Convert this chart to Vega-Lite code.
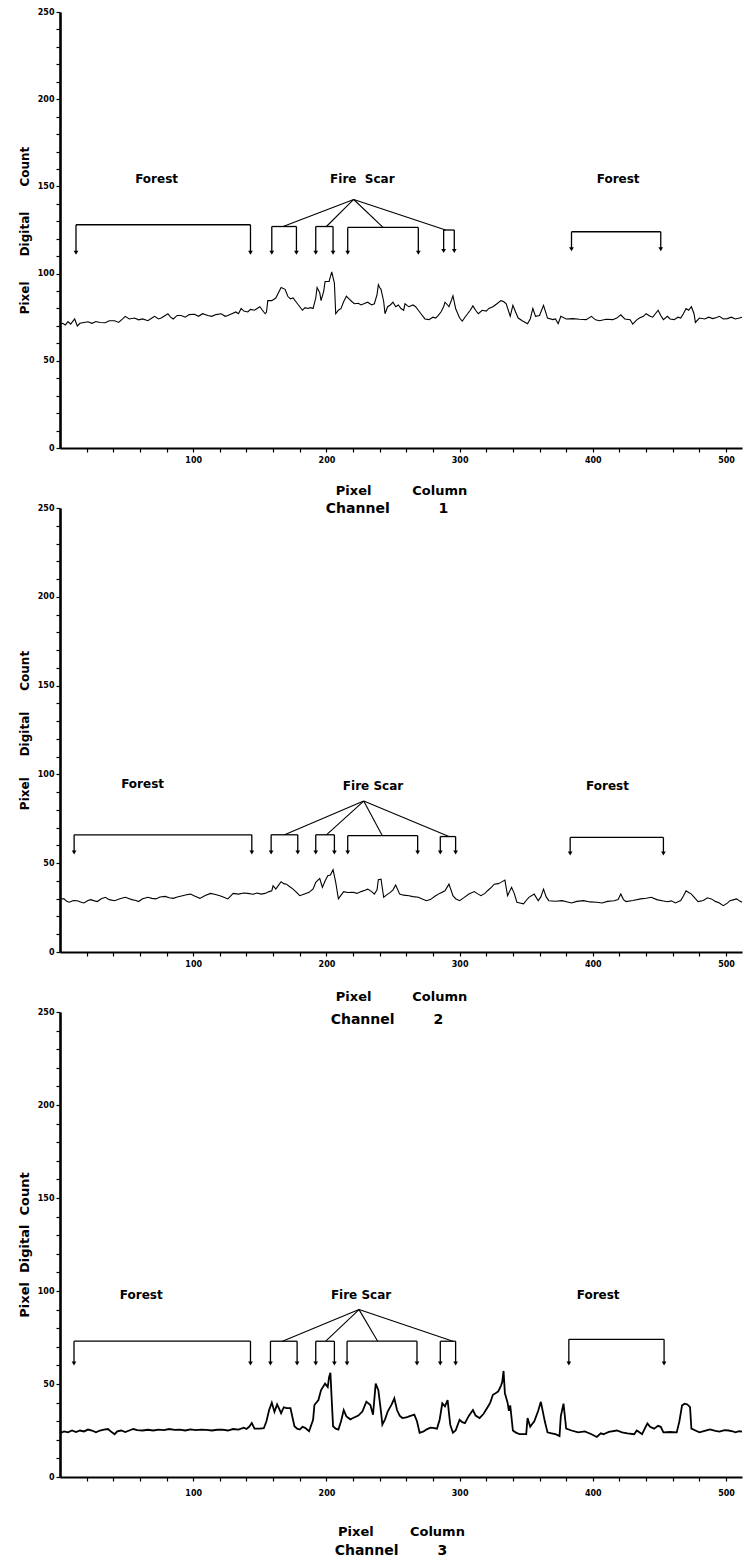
{
"$schema": "https://vega.github.io/schema/vega-lite/v6.json",
"background": "white",
"padding": {"left": 18, "top": 8, "right": 0, "bottom": 0},
"bounds": "flush",
"spacing": 60,
"config": {
  "view": {"stroke": null},
  "axis": {"grid": false, "domainColor": "black", "tickColor": "black", "labelColor": "black", "titleColor": "black",
    "labelFont": "DejaVu Sans", "labelFontSize": 8, "labelFontWeight": "bold",
    "titleFont": "DejaVu Sans", "titleFontSize": 13, "titleFontWeight": "bold", "tickSize": 4, "tickWidth": 1.2},
  "axisX": {"domainWidth": 1.8, "labelPadding": 4},
  "axisY": {"domainWidth": 2.6, "labelPadding": 2, "titlePadding": 6, "titleFontSize": 12}
},
"datasets": {
"ch1": [{"col":0,"dn":71},{"col":2,"dn":71.5},{"col":4,"dn":70.5},{"col":6,"dn":72.5},{"col":8,"dn":71},{"col":11,"dn":74},{"col":13,"dn":70},{"col":15,"dn":71.5},{"col":18,"dn":72},{"col":21,"dn":72.4},{"col":24,"dn":71.5},{"col":27,"dn":72.5},{"col":30,"dn":72},{"col":34,"dn":71.8},{"col":37,"dn":73},{"col":41,"dn":73},{"col":44,"dn":72},{"col":47,"dn":74},{"col":49,"dn":75.5},{"col":52,"dn":74},{"col":56,"dn":74.5},{"col":59,"dn":73.5},{"col":62,"dn":74},{"col":66,"dn":73},{"col":69,"dn":74.5},{"col":71,"dn":75.5},{"col":74,"dn":74},{"col":76,"dn":74.5},{"col":79,"dn":76},{"col":81,"dn":77},{"col":83,"dn":75},{"col":85,"dn":74},{"col":88,"dn":76},{"col":91,"dn":76},{"col":94,"dn":75},{"col":97,"dn":76.5},{"col":101,"dn":76.7},{"col":104,"dn":75.5},{"col":107,"dn":77},{"col":111,"dn":76},{"col":114,"dn":75.5},{"col":117,"dn":76.5},{"col":121,"dn":77},{"col":124,"dn":75.5},{"col":126,"dn":76},{"col":129,"dn":77},{"col":132,"dn":78},{"col":134,"dn":77},{"col":136,"dn":80},{"col":138,"dn":78.5},{"col":141,"dn":78},{"col":143,"dn":79.5},{"col":146,"dn":79},{"col":148,"dn":80},{"col":150,"dn":81},{"col":152,"dn":79},{"col":154,"dn":77},{"col":155,"dn":78},{"col":156,"dn":84.5},{"col":159,"dn":84.5},{"col":162,"dn":86},{"col":164,"dn":89},{"col":166,"dn":92},{"col":169,"dn":91},{"col":171,"dn":87},{"col":173,"dn":85.5},{"col":175,"dn":86},{"col":177,"dn":84},{"col":179,"dn":82},{"col":182,"dn":79},{"col":184,"dn":80.5},{"col":186,"dn":80},{"col":188,"dn":80.5},{"col":190,"dn":80},{"col":192,"dn":86},{"col":193,"dn":92},{"col":195,"dn":89},{"col":196,"dn":84.5},{"col":198,"dn":90},{"col":199,"dn":95.5},{"col":202,"dn":95.5},{"col":204,"dn":101},{"col":206,"dn":94.5},{"col":207,"dn":77},{"col":209,"dn":79},{"col":211,"dn":80},{"col":213,"dn":84},{"col":215,"dn":87},{"col":217,"dn":85.5},{"col":219,"dn":84},{"col":221,"dn":82.7},{"col":224,"dn":83},{"col":226,"dn":82},{"col":229,"dn":83},{"col":231,"dn":83.6},{"col":234,"dn":82},{"col":236,"dn":82.7},{"col":238,"dn":88},{"col":239,"dn":93.6},{"col":240,"dn":92},{"col":241,"dn":91},{"col":243,"dn":84},{"col":244,"dn":77},{"col":246,"dn":81},{"col":248,"dn":82},{"col":250,"dn":83.6},{"col":252,"dn":81},{"col":254,"dn":82},{"col":256,"dn":80},{"col":258,"dn":79},{"col":259,"dn":82.7},{"col":261,"dn":81.5},{"col":262,"dn":81},{"col":265,"dn":82},{"col":267,"dn":81},{"col":269,"dn":79},{"col":271,"dn":77},{"col":274,"dn":74},{"col":277,"dn":73.6},{"col":280,"dn":75},{"col":282,"dn":74.5},{"col":284,"dn":76},{"col":286,"dn":78},{"col":288,"dn":81},{"col":289,"dn":83.6},{"col":291,"dn":82},{"col":292,"dn":81},{"col":294,"dn":85},{"col":295,"dn":87.3},{"col":297,"dn":80},{"col":300,"dn":74.5},{"col":302,"dn":72.7},{"col":304,"dn":75},{"col":306,"dn":77},{"col":308,"dn":79},{"col":310,"dn":81.5},{"col":312,"dn":79},{"col":314,"dn":77},{"col":317,"dn":79},{"col":320,"dn":78.5},{"col":322,"dn":80},{"col":325,"dn":81},{"col":328,"dn":82.7},{"col":331,"dn":84.5},{"col":333,"dn":84},{"col":335,"dn":82.7},{"col":338,"dn":75.5},{"col":340,"dn":81.8},{"col":342,"dn":78},{"col":344,"dn":74.5},{"col":347,"dn":73},{"col":351,"dn":71.3},{"col":353,"dn":74},{"col":355,"dn":80},{"col":357,"dn":75.5},{"col":360,"dn":76},{"col":363,"dn":81.8},{"col":366,"dn":74.5},{"col":370,"dn":73.6},{"col":372,"dn":74},{"col":374,"dn":71.3},{"col":376,"dn":75.5},{"col":380,"dn":74},{"col":385,"dn":74.2},{"col":390,"dn":73.8},{"col":395,"dn":73.6},{"col":399,"dn":75.5},{"col":402,"dn":73.5},{"col":405,"dn":73},{"col":410,"dn":73.8},{"col":415,"dn":73.6},{"col":418,"dn":74.5},{"col":421,"dn":76.4},{"col":424,"dn":74},{"col":428,"dn":73.6},{"col":430,"dn":71},{"col":433,"dn":73.5},{"col":435,"dn":74.5},{"col":438,"dn":75.5},{"col":440,"dn":77},{"col":443,"dn":75.5},{"col":445,"dn":75},{"col":447,"dn":77},{"col":449,"dn":79},{"col":451,"dn":76},{"col":453,"dn":73.6},{"col":456,"dn":75.5},{"col":458,"dn":74},{"col":461,"dn":73.6},{"col":464,"dn":75},{"col":466,"dn":74.5},{"col":468,"dn":77},{"col":470,"dn":80},{"col":472,"dn":79},{"col":474,"dn":81},{"col":476,"dn":77},{"col":477,"dn":72},{"col":480,"dn":74.5},{"col":484,"dn":74},{"col":487,"dn":75},{"col":490,"dn":74.2},{"col":493,"dn":74.8},{"col":495,"dn":75.5},{"col":498,"dn":74},{"col":501,"dn":74.2},{"col":504,"dn":75},{"col":507,"dn":74},{"col":510,"dn":74.5},{"col":512,"dn":75}],
"ch2": [{"col":0,"dn":30},{"col":3,"dn":29.9},{"col":5,"dn":28.5},{"col":7,"dn":28},{"col":10,"dn":29},{"col":13,"dn":28.9},{"col":16,"dn":28},{"col":18,"dn":27.6},{"col":21,"dn":29},{"col":23,"dn":29.5},{"col":26,"dn":28.8},{"col":28,"dn":28.4},{"col":31,"dn":30},{"col":34,"dn":30.8},{"col":37,"dn":29.5},{"col":41,"dn":28.9},{"col":45,"dn":30},{"col":49,"dn":30.8},{"col":52,"dn":30},{"col":54,"dn":29.5},{"col":57,"dn":29},{"col":59,"dn":28.4},{"col":62,"dn":30},{"col":66,"dn":30.8},{"col":69,"dn":30.2},{"col":72,"dn":29.9},{"col":75,"dn":31},{"col":79,"dn":31.3},{"col":82,"dn":30.5},{"col":85,"dn":30.2},{"col":88,"dn":31},{"col":92,"dn":31.7},{"col":95,"dn":32.2},{"col":98,"dn":32.6},{"col":101,"dn":31.5},{"col":105,"dn":30.2},{"col":109,"dn":31.8},{"col":113,"dn":33},{"col":116,"dn":32.5},{"col":120,"dn":31.7},{"col":123,"dn":30.8},{"col":126,"dn":29.9},{"col":128,"dn":31.5},{"col":130,"dn":33},{"col":134,"dn":32.6},{"col":138,"dn":33.2},{"col":141,"dn":33},{"col":145,"dn":32.5},{"col":148,"dn":33.2},{"col":151,"dn":32.6},{"col":154,"dn":33},{"col":157,"dn":34},{"col":159,"dn":34.5},{"col":160,"dn":37.3},{"col":162,"dn":35.4},{"col":164,"dn":37.5},{"col":166,"dn":39.6},{"col":168,"dn":38.5},{"col":170,"dn":38.2},{"col":172,"dn":37},{"col":175,"dn":35.4},{"col":177,"dn":34},{"col":180,"dn":31.7},{"col":183,"dn":32.5},{"col":187,"dn":33.6},{"col":190,"dn":35.5},{"col":192,"dn":39.2},{"col":195,"dn":41.4},{"col":197,"dn":36.4},{"col":199,"dn":40},{"col":201,"dn":42.9},{"col":203,"dn":43.3},{"col":205,"dn":46.3},{"col":207,"dn":39.2},{"col":209,"dn":29.9},{"col":211,"dn":32},{"col":213,"dn":34},{"col":216,"dn":33.5},{"col":220,"dn":33.6},{"col":223,"dn":33},{"col":226,"dn":34},{"col":229,"dn":34.8},{"col":231,"dn":35.4},{"col":234,"dn":34},{"col":236,"dn":32.6},{"col":238,"dn":35},{"col":239,"dn":40.7},{"col":241,"dn":41},{"col":243,"dn":30.8},{"col":245,"dn":32},{"col":248,"dn":33.6},{"col":250,"dn":35},{"col":252,"dn":37.7},{"col":255,"dn":32.6},{"col":258,"dn":32},{"col":262,"dn":31.7},{"col":265,"dn":31.2},{"col":269,"dn":30.8},{"col":272,"dn":29.8},{"col":275,"dn":28.9},{"col":278,"dn":29.5},{"col":282,"dn":31.7},{"col":285,"dn":33},{"col":289,"dn":34.5},{"col":292,"dn":38.2},{"col":295,"dn":31.7},{"col":297,"dn":30},{"col":300,"dn":28.9},{"col":303,"dn":30.5},{"col":307,"dn":32.6},{"col":311,"dn":34},{"col":313,"dn":33},{"col":316,"dn":31.7},{"col":319,"dn":33},{"col":321,"dn":34.5},{"col":324,"dn":36.5},{"col":326,"dn":38.2},{"col":329,"dn":38.5},{"col":331,"dn":39.2},{"col":334,"dn":40.5},{"col":336,"dn":31.7},{"col":339,"dn":36.4},{"col":341,"dn":33},{"col":343,"dn":28},{"col":346,"dn":27.5},{"col":348,"dn":27.1},{"col":350,"dn":29},{"col":352,"dn":30.8},{"col":356,"dn":32.6},{"col":359,"dn":28.9},{"col":361,"dn":31},{"col":363,"dn":35.4},{"col":365,"dn":31},{"col":367,"dn":28.9},{"col":372,"dn":28.6},{"col":377,"dn":28.9},{"col":381,"dn":28.2},{"col":384,"dn":27.6},{"col":388,"dn":28.5},{"col":393,"dn":28.9},{"col":398,"dn":28.2},{"col":403,"dn":28},{"col":407,"dn":27.6},{"col":411,"dn":28.5},{"col":416,"dn":28.9},{"col":419,"dn":29.5},{"col":421,"dn":32.6},{"col":423,"dn":29.5},{"col":425,"dn":28.4},{"col":430,"dn":29},{"col":436,"dn":29.9},{"col":440,"dn":30.3},{"col":444,"dn":30.8},{"col":448,"dn":29.5},{"col":452,"dn":28.9},{"col":456,"dn":28.3},{"col":459,"dn":28.8},{"col":462,"dn":27.6},{"col":466,"dn":29},{"col":468,"dn":31.5},{"col":470,"dn":34.5},{"col":472,"dn":33.5},{"col":474,"dn":32.6},{"col":477,"dn":30},{"col":479,"dn":28.4},{"col":483,"dn":29},{"col":486,"dn":30.5},{"col":489,"dn":29.9},{"col":492,"dn":28.5},{"col":495,"dn":27.6},{"col":498,"dn":26.1},{"col":501,"dn":27.5},{"col":503,"dn":28.9},{"col":506,"dn":29.5},{"col":508,"dn":29.9},{"col":510,"dn":28.8},{"col":512,"dn":28}],
"ch3": [{"col":0,"dn":23.5},{"col":3,"dn":24.5},{"col":6,"dn":24},{"col":9,"dn":25},{"col":12,"dn":24.2},{"col":15,"dn":25},{"col":18,"dn":24.5},{"col":21,"dn":25.5},{"col":24,"dn":25},{"col":27,"dn":24},{"col":30,"dn":25},{"col":33,"dn":25.5},{"col":36,"dn":25.8},{"col":39,"dn":24},{"col":41,"dn":23},{"col":43,"dn":24.5},{"col":46,"dn":25},{"col":49,"dn":24.2},{"col":52,"dn":25},{"col":55,"dn":25.8},{"col":58,"dn":25.2},{"col":62,"dn":25},{"col":66,"dn":25.4},{"col":70,"dn":25},{"col":74,"dn":25.5},{"col":78,"dn":25.2},{"col":82,"dn":25.8},{"col":86,"dn":25.3},{"col":90,"dn":25.5},{"col":94,"dn":25},{"col":98,"dn":25.6},{"col":102,"dn":25.2},{"col":106,"dn":25.5},{"col":110,"dn":25.3},{"col":114,"dn":25},{"col":118,"dn":25.4},{"col":122,"dn":25.5},{"col":126,"dn":25},{"col":130,"dn":25.8},{"col":134,"dn":25.5},{"col":138,"dn":26.5},{"col":140,"dn":25.8},{"col":142,"dn":27},{"col":144,"dn":29},{"col":146,"dn":26},{"col":150,"dn":26},{"col":153,"dn":26.2},{"col":155,"dn":30},{"col":157,"dn":36},{"col":159,"dn":40},{"col":161,"dn":35},{"col":163,"dn":39},{"col":165,"dn":36},{"col":166,"dn":34.3},{"col":168,"dn":37.5},{"col":170,"dn":37},{"col":173,"dn":37},{"col":176,"dn":27.3},{"col":178,"dn":26},{"col":180,"dn":25.5},{"col":182,"dn":27},{"col":184,"dn":26.4},{"col":187,"dn":24.6},{"col":190,"dn":30.8},{"col":191,"dn":38.7},{"col":194,"dn":41.4},{"col":196,"dn":46.7},{"col":199,"dn":50.2},{"col":201,"dn":48.4},{"col":202,"dn":53.7},{"col":203,"dn":56},{"col":204,"dn":41.4},{"col":205,"dn":27.3},{"col":207,"dn":26},{"col":209,"dn":25.5},{"col":211,"dn":30},{"col":213,"dn":36},{"col":215,"dn":32.6},{"col":218,"dn":31},{"col":220,"dn":31.7},{"col":224,"dn":33},{"col":227,"dn":35.2},{"col":230,"dn":40.5},{"col":233,"dn":38.7},{"col":235,"dn":33.5},{"col":237,"dn":50.2},{"col":239,"dn":46.7},{"col":241,"dn":35},{"col":242,"dn":28.2},{"col":244,"dn":31},{"col":246,"dn":35.2},{"col":249,"dn":39},{"col":251,"dn":42.3},{"col":253,"dn":36},{"col":255,"dn":33},{"col":257,"dn":31.7},{"col":260,"dn":32},{"col":262,"dn":32.6},{"col":266,"dn":33.5},{"col":268,"dn":30},{"col":270,"dn":23.8},{"col":273,"dn":24.5},{"col":275,"dn":25.5},{"col":278,"dn":26.5},{"col":280,"dn":26.4},{"col":283,"dn":26},{"col":285,"dn":30.8},{"col":287,"dn":39.6},{"col":289,"dn":38},{"col":291,"dn":41.4},{"col":292,"dn":34.3},{"col":293,"dn":28},{"col":295,"dn":23.8},{"col":297,"dn":25},{"col":300,"dn":30.8},{"col":302,"dn":29.5},{"col":304,"dn":29},{"col":307,"dn":33},{"col":310,"dn":36},{"col":312,"dn":33},{"col":315,"dn":31.7},{"col":318,"dn":34},{"col":321,"dn":37.5},{"col":323,"dn":40},{"col":325,"dn":44.2},{"col":327,"dn":45},{"col":329,"dn":46},{"col":331,"dn":49},{"col":332,"dn":51},{"col":333,"dn":57},{"col":334,"dn":45},{"col":336,"dn":40},{"col":337,"dn":35.6},{"col":338,"dn":38.5},{"col":340,"dn":25},{"col":342,"dn":24},{"col":345,"dn":23},{"col":350,"dn":23},{"col":351,"dn":31.7},{"col":353,"dn":27},{"col":355,"dn":29},{"col":356,"dn":29.8},{"col":359,"dn":35.6},{"col":361,"dn":40.4},{"col":364,"dn":29.8},{"col":366,"dn":24},{"col":369,"dn":23.5},{"col":372,"dn":23},{"col":375,"dn":22},{"col":376,"dn":32.7},{"col":378,"dn":39.4},{"col":380,"dn":26},{"col":384,"dn":25},{"col":389,"dn":24},{"col":394,"dn":24.5},{"col":399,"dn":23},{"col":403,"dn":21.5},{"col":406,"dn":23.5},{"col":408,"dn":23},{"col":412,"dn":24.2},{"col":418,"dn":25},{"col":422,"dn":24},{"col":426,"dn":23.5},{"col":431,"dn":23},{"col":433,"dn":25},{"col":435,"dn":24},{"col":437,"dn":23},{"col":439,"dn":26},{"col":441,"dn":28.8},{"col":443,"dn":27},{"col":446,"dn":26},{"col":449,"dn":27.5},{"col":451,"dn":27},{"col":453,"dn":24},{"col":458,"dn":24.2},{"col":463,"dn":24},{"col":465,"dn":30},{"col":467,"dn":38.5},{"col":469,"dn":39.4},{"col":471,"dn":39},{"col":473,"dn":37.5},{"col":474,"dn":26},{"col":477,"dn":25},{"col":480,"dn":24},{"col":484,"dn":24.8},{"col":488,"dn":25.6},{"col":492,"dn":24.8},{"col":495,"dn":24.4},{"col":499,"dn":25.2},{"col":502,"dn":25},{"col":505,"dn":24.6},{"col":507,"dn":24},{"col":510,"dn":24.6},{"col":512,"dn":24.4}],
"brackets": [
{"ch":1,"a":12,"b":143,"lvl":128,"tip":112},{"ch":1,"a":159,"b":177.5,"lvl":127,"tip":112},{"ch":1,"a":192,"b":205,"lvl":127,"tip":112},{"ch":1,"a":216,"b":269,"lvl":126.5,"tip":112},{"ch":1,"a":288,"b":296,"lvl":125,"tip":113},{"ch":1,"a":384,"b":451,"lvl":124,"tip":114},
{"ch":2,"a":10.6,"b":144,"lvl":66,"tip":56},{"ch":2,"a":158.5,"b":178.5,"lvl":66,"tip":56},{"ch":2,"a":192,"b":206,"lvl":66,"tip":56},{"ch":2,"a":216,"b":268.5,"lvl":65.5,"tip":56},{"ch":2,"a":285.5,"b":297,"lvl":65,"tip":56},{"ch":2,"a":383,"b":453,"lvl":64.5,"tip":55.5},
{"ch":3,"a":10.5,"b":143,"lvl":73,"tip":61},{"ch":3,"a":158,"b":178,"lvl":73,"tip":61},{"ch":3,"a":192,"b":206,"lvl":73,"tip":61},{"ch":3,"a":215.5,"b":268,"lvl":73,"tip":61},{"ch":3,"a":285.5,"b":297,"lvl":73,"tip":61},{"ch":3,"a":382,"b":453.5,"lvl":74,"tip":61}],
"links": [
{"ch":1,"ax":220.5,"ay":142.5,"tx":167.5,"ty":127},{"ch":1,"ax":220.5,"ay":142.5,"tx":200,"ty":127},{"ch":1,"ax":220.5,"ay":142.5,"tx":242.5,"ty":126.5},{"ch":1,"ax":220.5,"ay":142.5,"tx":289.5,"ty":125},
{"ch":2,"ax":228,"ay":85,"tx":168.6,"ty":66},{"ch":2,"ax":228,"ay":85,"tx":200,"ty":66},{"ch":2,"ax":228,"ay":85,"tx":242,"ty":65.5},{"ch":2,"ax":228,"ay":85,"tx":292,"ty":65},
{"ch":3,"ax":224.5,"ay":90,"tx":167,"ty":73},{"ch":3,"ax":224.5,"ay":90,"tx":199.5,"ty":73},{"ch":3,"ax":224.5,"ay":90,"tx":238.5,"ty":73},{"ch":3,"ax":224.5,"ay":90,"tx":295,"ty":73}],
"labels": [
{"ch":1,"text":"Forest","col":72.5,"dn":154},{"ch":1,"text":"Fire\u00a0\u00a0Scar","col":227,"dn":154},{"ch":1,"text":"Forest","col":419,"dn":154},
{"ch":2,"text":"Forest","col":62,"dn":94.5},{"ch":2,"text":"Fire\u00a0Scar","col":235,"dn":93.5},{"ch":2,"text":"Forest","col":411,"dn":93.5},
{"ch":3,"text":"Forest","col":61,"dn":98},{"ch":3,"text":"Fire\u00a0Scar","col":226,"dn":98},{"ch":3,"text":"Forest","col":404,"dn":98}]
},
"vconcat": [
{
 "width": 682, "height": 436,
 "title": {"text": "Channel\u00a0\u00a0\u00a0\u00a0\u00a0\u00a0\u00a0\u00a0\u00a0\u00a01", "orient": "bottom", "font": "DejaVu Sans", "fontSize": 14, "fontWeight": "bold", "color": "black", "offset": 5, "dx": -14},
 "layer": [
  {"data": {"name": "ch1"}, "mark": {"type": "line", "color": "black", "strokeWidth": 1.1},
   "encoding": {
    "x": {"field": "col", "type": "quantitative", "scale": {"domain": [0, 512], "nice": false, "zero": false},
      "axis": {"values": [20,40,60,80,100,120,140,160,180,200,220,240,260,280,300,320,340,360,380,400,420,440,460,480,500], "labelExpr": "datum.value % 100 === 0 ? datum.label : ''", "title": "Pixel\u00a0\u00a0\u00a0\u00a0\u00a0\u00a0\u00a0\u00a0\u00a0Column", "titlePadding": 20}},
    "y": {"field": "dn", "type": "quantitative", "scale": {"domain": [0, 250], "nice": false},
      "axis": {"values": [0,10,20,30,40,50,60,70,80,90,100,110,120,130,140,150,160,170,180,190,200,210,220,230,240,250], "labelExpr": "datum.value % 50 === 0 ? datum.label : ''", "title": "Pixel\u00a0\u00a0\u00a0\u00a0\u00a0\u00a0Digital\u00a0\u00a0\u00a0\u00a0\u00a0\u00a0Count"}}}},
  {"data": {"name": "brackets"}, "transform": [{"filter": "datum.ch == 1"}], "mark": {"type": "rule", "color": "black", "strokeWidth": 1.3},
   "encoding": {
    "x": {"field": "a", "type": "quantitative", "axis": {"values": [20,40,60,80,100,120,140,160,180,200,220,240,260,280,300,320,340,360,380,400,420,440,460,480,500], "labelExpr": "datum.value % 100 === 0 ? datum.label : ''", "title": "Pixel\u00a0\u00a0\u00a0\u00a0\u00a0\u00a0\u00a0\u00a0\u00a0Column", "titlePadding": 20}},
    "x2": {"field": "b"},
    "y": {"field": "lvl", "type": "quantitative", "axis": {"values": [0,10,20,30,40,50,60,70,80,90,100,110,120,130,140,150,160,170,180,190,200,210,220,230,240,250], "labelExpr": "datum.value % 50 === 0 ? datum.label : ''", "title": "Pixel\u00a0\u00a0\u00a0\u00a0\u00a0\u00a0Digital\u00a0\u00a0\u00a0\u00a0\u00a0\u00a0Count"}}}},
  {"data": {"name": "brackets"}, "transform": [{"filter": "datum.ch == 1"}, {"fold": ["a", "b"], "as": ["end", "pos"]}], "mark": {"type": "rule", "color": "black", "strokeWidth": 1.3},
   "encoding": {
    "x": {"field": "pos", "type": "quantitative", "axis": {"values": [20,40,60,80,100,120,140,160,180,200,220,240,260,280,300,320,340,360,380,400,420,440,460,480,500], "labelExpr": "datum.value % 100 === 0 ? datum.label : ''", "title": "Pixel\u00a0\u00a0\u00a0\u00a0\u00a0\u00a0\u00a0\u00a0\u00a0Column", "titlePadding": 20}},
    "y": {"field": "lvl", "type": "quantitative", "axis": {"values": [0,10,20,30,40,50,60,70,80,90,100,110,120,130,140,150,160,170,180,190,200,210,220,230,240,250], "labelExpr": "datum.value % 50 === 0 ? datum.label : ''", "title": "Pixel\u00a0\u00a0\u00a0\u00a0\u00a0\u00a0Digital\u00a0\u00a0\u00a0\u00a0\u00a0\u00a0Count"}},
    "y2": {"field": "tip"}}},
  {"data": {"name": "brackets"}, "transform": [{"filter": "datum.ch == 1"}, {"fold": ["a", "b"], "as": ["end", "pos"]}], "mark": {"type": "point", "shape": "triangle-down", "filled": true, "color": "black", "opacity": 1, "size": 22},
   "encoding": {
    "x": {"field": "pos", "type": "quantitative", "axis": {"values": [20,40,60,80,100,120,140,160,180,200,220,240,260,280,300,320,340,360,380,400,420,440,460,480,500], "labelExpr": "datum.value % 100 === 0 ? datum.label : ''", "title": "Pixel\u00a0\u00a0\u00a0\u00a0\u00a0\u00a0\u00a0\u00a0\u00a0Column", "titlePadding": 20}},
    "y": {"field": "tip", "type": "quantitative", "axis": {"values": [0,10,20,30,40,50,60,70,80,90,100,110,120,130,140,150,160,170,180,190,200,210,220,230,240,250], "labelExpr": "datum.value % 50 === 0 ? datum.label : ''", "title": "Pixel\u00a0\u00a0\u00a0\u00a0\u00a0\u00a0Digital\u00a0\u00a0\u00a0\u00a0\u00a0\u00a0Count"}}}},
  {"data": {"name": "links"}, "transform": [{"filter": "datum.ch == 1"}], "mark": {"type": "rule", "color": "black", "strokeWidth": 1.1},
   "encoding": {
    "x": {"field": "ax", "type": "quantitative", "axis": {"values": [20,40,60,80,100,120,140,160,180,200,220,240,260,280,300,320,340,360,380,400,420,440,460,480,500], "labelExpr": "datum.value % 100 === 0 ? datum.label : ''", "title": "Pixel\u00a0\u00a0\u00a0\u00a0\u00a0\u00a0\u00a0\u00a0\u00a0Column", "titlePadding": 20}},
    "y": {"field": "ay", "type": "quantitative", "axis": {"values": [0,10,20,30,40,50,60,70,80,90,100,110,120,130,140,150,160,170,180,190,200,210,220,230,240,250], "labelExpr": "datum.value % 50 === 0 ? datum.label : ''", "title": "Pixel\u00a0\u00a0\u00a0\u00a0\u00a0\u00a0Digital\u00a0\u00a0\u00a0\u00a0\u00a0\u00a0Count"}},
    "x2": {"field": "tx"}, "y2": {"field": "ty"}}},
  {"data": {"name": "labels"}, "transform": [{"filter": "datum.ch == 1"}], "mark": {"type": "text", "font": "DejaVu Sans", "fontSize": 12, "fontWeight": "bold", "color": "black"},
   "encoding": {
    "x": {"field": "col", "type": "quantitative", "axis": {"values": [20,40,60,80,100,120,140,160,180,200,220,240,260,280,300,320,340,360,380,400,420,440,460,480,500], "labelExpr": "datum.value % 100 === 0 ? datum.label : ''", "title": "Pixel\u00a0\u00a0\u00a0\u00a0\u00a0\u00a0\u00a0\u00a0\u00a0Column", "titlePadding": 20}},
    "y": {"field": "dn", "type": "quantitative", "axis": {"values": [0,10,20,30,40,50,60,70,80,90,100,110,120,130,140,150,160,170,180,190,200,210,220,230,240,250], "labelExpr": "datum.value % 50 === 0 ? datum.label : ''", "title": "Pixel\u00a0\u00a0\u00a0\u00a0\u00a0\u00a0Digital\u00a0\u00a0\u00a0\u00a0\u00a0\u00a0Count"}},
    "text": {"field": "text"}}}
 ]
},
{
 "width": 682, "height": 444,
 "title": {"text": "Channel\u00a0\u00a0\u00a0\u00a0\u00a0\u00a0\u00a0\u00a02", "orient": "bottom", "font": "DejaVu Sans", "fontSize": 14, "fontWeight": "bold", "color": "black", "offset": 10, "dx": -14},
 "layer": [
  {"data": {"name": "ch2"}, "mark": {"type": "line", "color": "black", "strokeWidth": 1.1},
   "encoding": {
    "x": {"field": "col", "type": "quantitative", "scale": {"domain": [0, 512], "nice": false, "zero": false},
      "axis": {"values": [20,40,60,80,100,120,140,160,180,200,220,240,260,280,300,320,340,360,380,400,420,440,460,480,500], "labelExpr": "datum.value % 100 === 0 ? datum.label : ''", "title": "Pixel\u00a0\u00a0\u00a0\u00a0\u00a0\u00a0\u00a0\u00a0\u00a0Column", "titlePadding": 22}},
    "y": {"field": "dn", "type": "quantitative", "scale": {"domain": [0, 250], "nice": false},
      "axis": {"values": [0,10,20,30,40,50,60,70,80,90,100,110,120,130,140,150,160,170,180,190,200,210,220,230,240,250], "labelExpr": "datum.value % 50 === 0 ? datum.label : ''", "title": "Pixel\u00a0\u00a0\u00a0\u00a0\u00a0Digital\u00a0\u00a0\u00a0\u00a0\u00a0Count"}}}},
  {"data": {"name": "brackets"}, "transform": [{"filter": "datum.ch == 2"}], "mark": {"type": "rule", "color": "black", "strokeWidth": 1.3},
   "encoding": {
    "x": {"field": "a", "type": "quantitative", "axis": {"values": [20,40,60,80,100,120,140,160,180,200,220,240,260,280,300,320,340,360,380,400,420,440,460,480,500], "labelExpr": "datum.value % 100 === 0 ? datum.label : ''", "title": "Pixel\u00a0\u00a0\u00a0\u00a0\u00a0\u00a0\u00a0\u00a0\u00a0Column", "titlePadding": 22}},
    "x2": {"field": "b"},
    "y": {"field": "lvl", "type": "quantitative", "axis": {"values": [0,10,20,30,40,50,60,70,80,90,100,110,120,130,140,150,160,170,180,190,200,210,220,230,240,250], "labelExpr": "datum.value % 50 === 0 ? datum.label : ''", "title": "Pixel\u00a0\u00a0\u00a0\u00a0\u00a0Digital\u00a0\u00a0\u00a0\u00a0\u00a0Count"}}}},
  {"data": {"name": "brackets"}, "transform": [{"filter": "datum.ch == 2"}, {"fold": ["a", "b"], "as": ["end", "pos"]}], "mark": {"type": "rule", "color": "black", "strokeWidth": 1.3},
   "encoding": {
    "x": {"field": "pos", "type": "quantitative", "axis": {"values": [20,40,60,80,100,120,140,160,180,200,220,240,260,280,300,320,340,360,380,400,420,440,460,480,500], "labelExpr": "datum.value % 100 === 0 ? datum.label : ''", "title": "Pixel\u00a0\u00a0\u00a0\u00a0\u00a0\u00a0\u00a0\u00a0\u00a0Column", "titlePadding": 22}},
    "y": {"field": "lvl", "type": "quantitative", "axis": {"values": [0,10,20,30,40,50,60,70,80,90,100,110,120,130,140,150,160,170,180,190,200,210,220,230,240,250], "labelExpr": "datum.value % 50 === 0 ? datum.label : ''", "title": "Pixel\u00a0\u00a0\u00a0\u00a0\u00a0Digital\u00a0\u00a0\u00a0\u00a0\u00a0Count"}},
    "y2": {"field": "tip"}}},
  {"data": {"name": "brackets"}, "transform": [{"filter": "datum.ch == 2"}, {"fold": ["a", "b"], "as": ["end", "pos"]}], "mark": {"type": "point", "shape": "triangle-down", "filled": true, "color": "black", "opacity": 1, "size": 22},
   "encoding": {
    "x": {"field": "pos", "type": "quantitative", "axis": {"values": [20,40,60,80,100,120,140,160,180,200,220,240,260,280,300,320,340,360,380,400,420,440,460,480,500], "labelExpr": "datum.value % 100 === 0 ? datum.label : ''", "title": "Pixel\u00a0\u00a0\u00a0\u00a0\u00a0\u00a0\u00a0\u00a0\u00a0Column", "titlePadding": 22}},
    "y": {"field": "tip", "type": "quantitative", "axis": {"values": [0,10,20,30,40,50,60,70,80,90,100,110,120,130,140,150,160,170,180,190,200,210,220,230,240,250], "labelExpr": "datum.value % 50 === 0 ? datum.label : ''", "title": "Pixel\u00a0\u00a0\u00a0\u00a0\u00a0Digital\u00a0\u00a0\u00a0\u00a0\u00a0Count"}}}},
  {"data": {"name": "links"}, "transform": [{"filter": "datum.ch == 2"}], "mark": {"type": "rule", "color": "black", "strokeWidth": 1.1},
   "encoding": {
    "x": {"field": "ax", "type": "quantitative", "axis": {"values": [20,40,60,80,100,120,140,160,180,200,220,240,260,280,300,320,340,360,380,400,420,440,460,480,500], "labelExpr": "datum.value % 100 === 0 ? datum.label : ''", "title": "Pixel\u00a0\u00a0\u00a0\u00a0\u00a0\u00a0\u00a0\u00a0\u00a0Column", "titlePadding": 22}},
    "y": {"field": "ay", "type": "quantitative", "axis": {"values": [0,10,20,30,40,50,60,70,80,90,100,110,120,130,140,150,160,170,180,190,200,210,220,230,240,250], "labelExpr": "datum.value % 50 === 0 ? datum.label : ''", "title": "Pixel\u00a0\u00a0\u00a0\u00a0\u00a0Digital\u00a0\u00a0\u00a0\u00a0\u00a0Count"}},
    "x2": {"field": "tx"}, "y2": {"field": "ty"}}},
  {"data": {"name": "labels"}, "transform": [{"filter": "datum.ch == 2"}], "mark": {"type": "text", "font": "DejaVu Sans", "fontSize": 12, "fontWeight": "bold", "color": "black"},
   "encoding": {
    "x": {"field": "col", "type": "quantitative", "axis": {"values": [20,40,60,80,100,120,140,160,180,200,220,240,260,280,300,320,340,360,380,400,420,440,460,480,500], "labelExpr": "datum.value % 100 === 0 ? datum.label : ''", "title": "Pixel\u00a0\u00a0\u00a0\u00a0\u00a0\u00a0\u00a0\u00a0\u00a0Column", "titlePadding": 22}},
    "y": {"field": "dn", "type": "quantitative", "axis": {"values": [0,10,20,30,40,50,60,70,80,90,100,110,120,130,140,150,160,170,180,190,200,210,220,230,240,250], "labelExpr": "datum.value % 50 === 0 ? datum.label : ''", "title": "Pixel\u00a0\u00a0\u00a0\u00a0\u00a0Digital\u00a0\u00a0\u00a0\u00a0\u00a0Count"}},
    "text": {"field": "text"}}}
 ]
},
{
 "width": 682, "height": 465,
 "title": {"text": "Channel\u00a0\u00a0\u00a0\u00a0\u00a0\u00a0\u00a0\u00a03", "orient": "bottom", "font": "DejaVu Sans", "fontSize": 14, "fontWeight": "bold", "color": "black", "offset": 6, "dx": -10},
 "layer": [
  {"data": {"name": "ch3"}, "mark": {"type": "line", "color": "black", "strokeWidth": 1.8},
   "encoding": {
    "x": {"field": "col", "type": "quantitative", "scale": {"domain": [0, 512], "nice": false, "zero": false},
      "axis": {"values": [20,40,60,80,100,120,140,160,180,200,220,240,260,280,300,320,340,360,380,400,420,440,460,480,500], "labelExpr": "datum.value % 100 === 0 ? datum.label : ''", "title": "Pixel\u00a0\u00a0\u00a0\u00a0\u00a0\u00a0\u00a0\u00a0Column", "titlePadding": 28, "labelPadding": 8}},
    "y": {"field": "dn", "type": "quantitative", "scale": {"domain": [0, 250], "nice": false},
      "axis": {"values": [0,10,20,30,40,50,60,70,80,90,100,110,120,130,140,150,160,170,180,190,200,210,220,230,240,250], "labelExpr": "datum.value % 50 === 0 ? datum.label : ''", "title": "Pixel\u00a0\u00a0Digital\u00a0\u00a0Count", "titleFontSize": 13}}}},
  {"data": {"name": "brackets"}, "transform": [{"filter": "datum.ch == 3"}], "mark": {"type": "rule", "color": "black", "strokeWidth": 1.3},
   "encoding": {
    "x": {"field": "a", "type": "quantitative", "axis": {"values": [20,40,60,80,100,120,140,160,180,200,220,240,260,280,300,320,340,360,380,400,420,440,460,480,500], "labelExpr": "datum.value % 100 === 0 ? datum.label : ''", "title": "Pixel\u00a0\u00a0\u00a0\u00a0\u00a0\u00a0\u00a0\u00a0Column", "titlePadding": 28, "labelPadding": 8}},
    "x2": {"field": "b"},
    "y": {"field": "lvl", "type": "quantitative", "axis": {"values": [0,10,20,30,40,50,60,70,80,90,100,110,120,130,140,150,160,170,180,190,200,210,220,230,240,250], "labelExpr": "datum.value % 50 === 0 ? datum.label : ''", "title": "Pixel\u00a0\u00a0Digital\u00a0\u00a0Count", "titleFontSize": 13}}}},
  {"data": {"name": "brackets"}, "transform": [{"filter": "datum.ch == 3"}, {"fold": ["a", "b"], "as": ["end", "pos"]}], "mark": {"type": "rule", "color": "black", "strokeWidth": 1.3},
   "encoding": {
    "x": {"field": "pos", "type": "quantitative", "axis": {"values": [20,40,60,80,100,120,140,160,180,200,220,240,260,280,300,320,340,360,380,400,420,440,460,480,500], "labelExpr": "datum.value % 100 === 0 ? datum.label : ''", "title": "Pixel\u00a0\u00a0\u00a0\u00a0\u00a0\u00a0\u00a0\u00a0Column", "titlePadding": 28, "labelPadding": 8}},
    "y": {"field": "lvl", "type": "quantitative", "axis": {"values": [0,10,20,30,40,50,60,70,80,90,100,110,120,130,140,150,160,170,180,190,200,210,220,230,240,250], "labelExpr": "datum.value % 50 === 0 ? datum.label : ''", "title": "Pixel\u00a0\u00a0Digital\u00a0\u00a0Count", "titleFontSize": 13}},
    "y2": {"field": "tip"}}},
  {"data": {"name": "brackets"}, "transform": [{"filter": "datum.ch == 3"}, {"fold": ["a", "b"], "as": ["end", "pos"]}], "mark": {"type": "point", "shape": "triangle-down", "filled": true, "color": "black", "opacity": 1, "size": 22},
   "encoding": {
    "x": {"field": "pos", "type": "quantitative", "axis": {"values": [20,40,60,80,100,120,140,160,180,200,220,240,260,280,300,320,340,360,380,400,420,440,460,480,500], "labelExpr": "datum.value % 100 === 0 ? datum.label : ''", "title": "Pixel\u00a0\u00a0\u00a0\u00a0\u00a0\u00a0\u00a0\u00a0Column", "titlePadding": 28, "labelPadding": 8}},
    "y": {"field": "tip", "type": "quantitative", "axis": {"values": [0,10,20,30,40,50,60,70,80,90,100,110,120,130,140,150,160,170,180,190,200,210,220,230,240,250], "labelExpr": "datum.value % 50 === 0 ? datum.label : ''", "title": "Pixel\u00a0\u00a0Digital\u00a0\u00a0Count", "titleFontSize": 13}}}},
  {"data": {"name": "links"}, "transform": [{"filter": "datum.ch == 3"}], "mark": {"type": "rule", "color": "black", "strokeWidth": 1.1},
   "encoding": {
    "x": {"field": "ax", "type": "quantitative", "axis": {"values": [20,40,60,80,100,120,140,160,180,200,220,240,260,280,300,320,340,360,380,400,420,440,460,480,500], "labelExpr": "datum.value % 100 === 0 ? datum.label : ''", "title": "Pixel\u00a0\u00a0\u00a0\u00a0\u00a0\u00a0\u00a0\u00a0Column", "titlePadding": 28, "labelPadding": 8}},
    "y": {"field": "ay", "type": "quantitative", "axis": {"values": [0,10,20,30,40,50,60,70,80,90,100,110,120,130,140,150,160,170,180,190,200,210,220,230,240,250], "labelExpr": "datum.value % 50 === 0 ? datum.label : ''", "title": "Pixel\u00a0\u00a0Digital\u00a0\u00a0Count", "titleFontSize": 13}},
    "x2": {"field": "tx"}, "y2": {"field": "ty"}}},
  {"data": {"name": "labels"}, "transform": [{"filter": "datum.ch == 3"}], "mark": {"type": "text", "font": "DejaVu Sans", "fontSize": 12, "fontWeight": "bold", "color": "black"},
   "encoding": {
    "x": {"field": "col", "type": "quantitative", "axis": {"values": [20,40,60,80,100,120,140,160,180,200,220,240,260,280,300,320,340,360,380,400,420,440,460,480,500], "labelExpr": "datum.value % 100 === 0 ? datum.label : ''", "title": "Pixel\u00a0\u00a0\u00a0\u00a0\u00a0\u00a0\u00a0\u00a0Column", "titlePadding": 28, "labelPadding": 8}},
    "y": {"field": "dn", "type": "quantitative", "axis": {"values": [0,10,20,30,40,50,60,70,80,90,100,110,120,130,140,150,160,170,180,190,200,210,220,230,240,250], "labelExpr": "datum.value % 50 === 0 ? datum.label : ''", "title": "Pixel\u00a0\u00a0Digital\u00a0\u00a0Count", "titleFontSize": 13}},
    "text": {"field": "text"}}}
 ]
}
]
}
